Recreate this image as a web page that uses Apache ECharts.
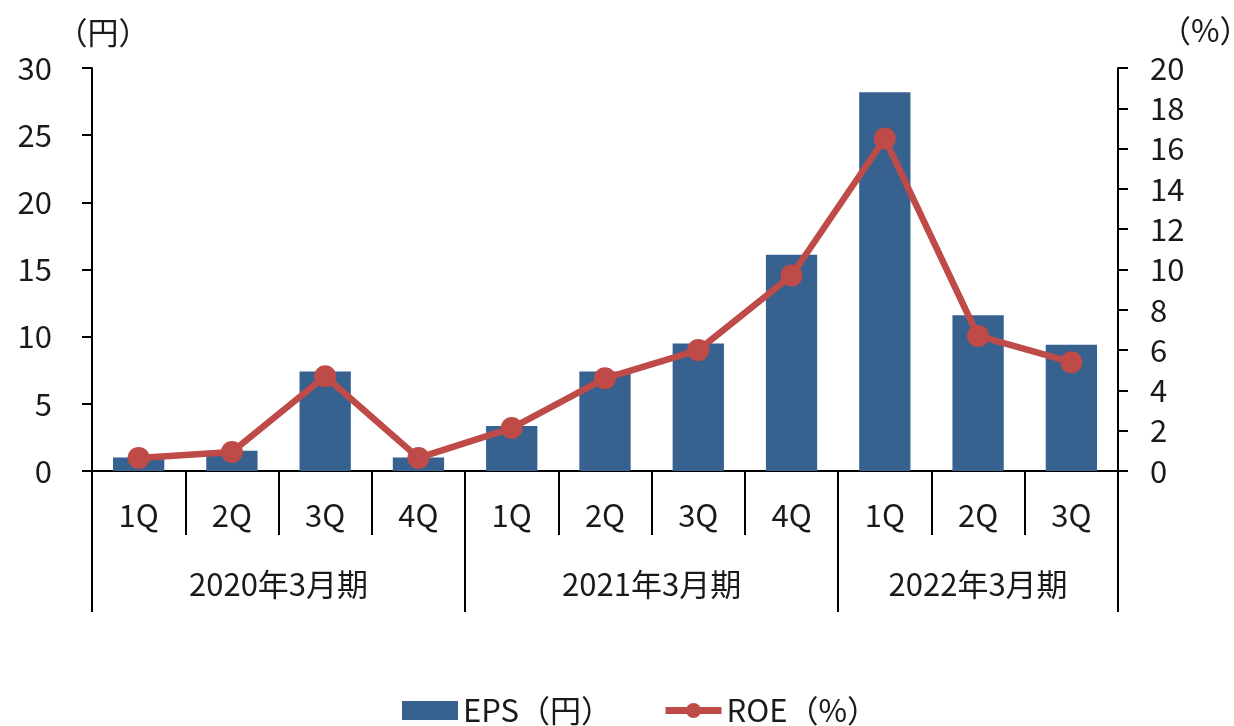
<!DOCTYPE html>
<html>
<head>
<meta charset="utf-8">
<script src="https://cdn.jsdelivr.net/npm/echarts@6/dist/echarts.min.js"></script>
<style>
  html, body { margin: 0; padding: 0; background: #fff; overflow: hidden; }
  #main { width: 1234px; height: 726px; }
</style>
</head>
<body>
<div id="main"></div>
<script>
// 四半期ラベルと決算期グループ
const quarters = ['1Q', '2Q', '3Q', '4Q', '1Q', '2Q', '3Q', '4Q', '1Q', '2Q', '3Q'];
const groups = ['2020年3月期', '2021年3月期', '2022年3月期'];
const groupSizes = [4, 4, 3];
const epsValues = [1.0, 1.5, 7.4, 1.0, 3.35, 7.4, 9.5, 16.1, 28.2, 11.6, 9.4];
const roeValues = [0.65, 0.94, 4.7, 0.65, 2.13, 4.6, 6.0, 9.7, 16.5, 6.7, 5.4];

const font = 'Noto Sans CJK JP';
const textColor = '#1a1a1a';
const axisColor = '#000';
const fs = 31;

// グループ境界と中央位置（カテゴリ単位）
const bounds = [0];
const centers = [];
groupSizes.forEach(function (n) {
  const start = bounds[bounds.length - 1];
  centers.push(start + n / 2);
  bounds.push(start + n);
});

const chart = echarts.init(document.getElementById('main'));

const option = {
  animation: false,
  textStyle: { fontFamily: font },
  grid: { left: 92, right: 116, top: 68, bottom: 255, containLabel: false, outerBoundsMode: 'none' },
  legend: {
    left: 397,
    top: 690,
    itemWidth: 56,
    itemHeight: 19,
    itemGap: 50,
    textStyle: { fontSize: fs, color: textColor, fontFamily: font },
    data: [
      { name: 'EPS（円）', icon: 'rect' },
      { name: 'ROE（%）', lineStyle: { width: 7 } }
    ]
  },
  xAxis: [{
    type: 'category',
    position: 'bottom',
    data: quarters,
    axisLine: { lineStyle: { color: axisColor, width: 2 } },
    axisTick: { show: true, interval: 0, length: 64, lineStyle: { color: axisColor, width: 2 } },
    axisLabel: { interval: 0, margin: 29, fontSize: fs, color: textColor }
  }, {
    type: 'value',
    position: 'bottom',
    min: 0,
    max: quarters.length,
    splitLine: { show: false },
    axisLine: { show: false },
    axisTick: { show: true, customValues: bounds, length: 141, lineStyle: { color: axisColor, width: 2 } },
    axisLabel: {
      customValues: centers,
      margin: 98,
      fontSize: fs,
      color: textColor,
      formatter: function (v) {
        return groups[centers.indexOf(v)] || '';
      }
    }
  }],
  yAxis: [{
    type: 'value',
    name: '（円）',
    nameLocation: 'end',
    nameGap: 20,
    nameTextStyle: { fontSize: fs, color: textColor, padding: [0, 0, 0, 22] },
    min: 0,
    max: 30,
    interval: 5,
    splitLine: { show: false },
    axisLine: { show: true, lineStyle: { color: axisColor, width: 2 } },
    axisTick: { show: true, length: 10, lineStyle: { color: axisColor, width: 2 } },
    axisLabel: { margin: 40, fontSize: fs, color: textColor }
  }, {
    type: 'value',
    name: '（%）',
    nameLocation: 'end',
    nameGap: 22,
    nameTextStyle: { fontSize: fs, color: textColor, align: 'left', padding: [0, 0, 0, 42] },
    min: 0,
    max: 20,
    interval: 2,
    splitLine: { show: false },
    axisLine: { show: true, lineStyle: { color: axisColor, width: 2 } },
    axisTick: { show: true, length: 10, lineStyle: { color: axisColor, width: 2 } },
    axisLabel: { margin: 32, fontSize: fs, color: textColor }
  }],
  series: [{
    name: 'EPS（円）',
    type: 'bar',
    xAxisIndex: 0,
    yAxisIndex: 0,
    barWidth: '55%',
    itemStyle: { color: '#37618F' },
    data: epsValues
  }, {
    name: 'ROE（%）',
    type: 'line',
    xAxisIndex: 0,
    yAxisIndex: 1,
    symbol: 'circle',
    symbolSize: 22,
    lineStyle: { color: '#BE4B48', width: 6.5 },
    itemStyle: { color: '#BE4B48' },
    data: roeValues
  }]
};

chart.setOption(option);
</script>
</body>
</html>
